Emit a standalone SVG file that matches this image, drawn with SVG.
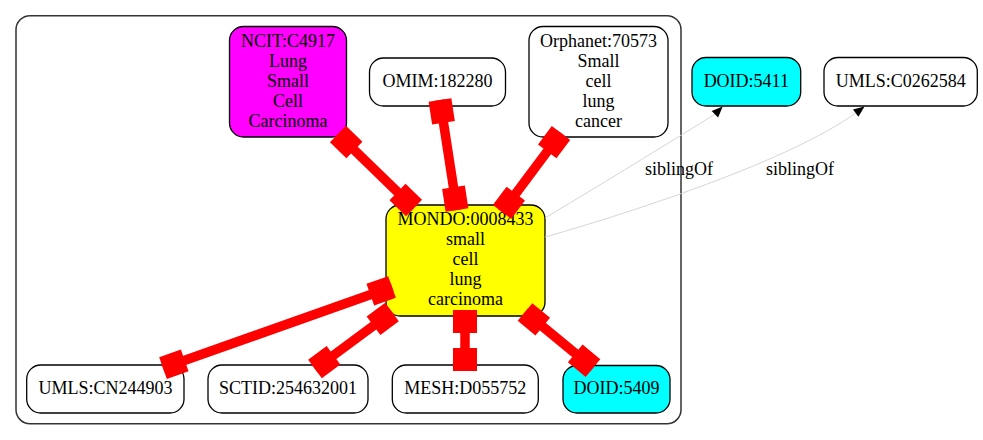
<svg xmlns="http://www.w3.org/2000/svg" width="983" height="440" viewBox="0 0 983 440">
<defs>
<style>
.n{stroke:#000;stroke-width:1.3}
.t{font-family:"Liberation Serif","Times New Roman",serif;font-size:18px;fill:#000;text-anchor:middle}
.r{fill:#ff0000}
.rl{stroke:#ff0000;stroke-width:9.5}
.s{fill:none;stroke:#d0d0d0;stroke-width:0.9}
</style>
</defs>
<rect width="983" height="440" fill="#fff"/>
<rect id="cluster" x="16" y="15.7" width="665" height="408" rx="14" fill="none" stroke="#333" stroke-width="1.5"/>

<g id="NCIT_C4917">
<rect class="n" x="229.5" y="26.5" width="117" height="110.5" rx="14" fill="#ff00ff"/>
<text class="t" x="288" y="46.5">NCIT:C4917</text>
<text class="t" x="288" y="66.5">Lung</text>
<text class="t" x="288" y="86.5">Small</text>
<text class="t" x="288" y="106.5">Cell</text>
<text class="t" x="288" y="126.5">Carcinoma</text>
</g>
<g id="OMIM_182280">
<rect class="n" x="369.5" y="58" width="136" height="48" rx="14" fill="#fff"/>
<text class="t" x="437.5" y="86.5">OMIM:182280</text>
</g>
<g id="Orphanet_70573">
<rect class="n" x="529" y="26.5" width="139" height="110.5" rx="14" fill="#fff"/>
<text class="t" x="598.5" y="46.5">Orphanet:70573</text>
<text class="t" x="598.5" y="66.5">Small</text>
<text class="t" x="598.5" y="86.5">cell</text>
<text class="t" x="598.5" y="106.5">lung</text>
<text class="t" x="598.5" y="126.5">cancer</text>
</g>
<g id="MONDO_0008433">
<rect class="n" x="386" y="205" width="159" height="111" rx="14" fill="#ffff00"/>
<text class="t" x="465.5" y="225">MONDO:0008433</text>
<text class="t" x="465.5" y="245">small</text>
<text class="t" x="465.5" y="265">cell</text>
<text class="t" x="465.5" y="285">lung</text>
<text class="t" x="465.5" y="305">carcinoma</text>
</g>
<g id="UMLS_CN244903">
<rect class="n" x="26.7" y="365" width="157.3" height="48" rx="14" fill="#fff"/>
<text class="t" x="105.4" y="394">UMLS:CN244903</text>
</g>
<g id="SCTID_254632001">
<rect class="n" x="208" y="365" width="160" height="48" rx="14" fill="#fff"/>
<text class="t" x="288" y="394">SCTID:254632001</text>
</g>
<g id="MESH_D055752">
<rect class="n" x="392.3" y="365" width="146" height="48" rx="14" fill="#fff"/>
<text class="t" x="465.3" y="394">MESH:D055752</text>
</g>
<g id="DOID_5409">
<rect class="n" x="563" y="365.5" width="107" height="47.5" rx="14" fill="#00ffff"/>
<text class="t" x="616.5" y="394">DOID:5409</text>
</g>
<g id="DOID_5411">
<rect class="n" x="692" y="57.5" width="108.7" height="48.5" rx="14" fill="#00ffff"/>
<text class="t" x="746.3" y="87">DOID:5411</text>
</g>
<g id="UMLS_C0262584">
<rect class="n" x="824" y="57.5" width="153.3" height="48.5" rx="14" fill="#fff"/>
<text class="t" x="900.7" y="87">UMLS:C0262584</text>
</g>

<g id="connectors">
<g transform="translate(414,208) rotate(-135.8)">
<line class="rl" x1="0" y1="0" x2="106.1" y2="0"/>
<rect class="r" x="0" y="-11.5" width="23" height="23"/>
<rect class="r" x="83.1" y="-11.5" width="23" height="23"/>
</g>
<g transform="translate(457,210) rotate(-98.8)">
<line class="rl" x1="0" y1="0" x2="111.3" y2="0"/>
<rect class="r" x="0" y="-11.5" width="23" height="23"/>
<rect class="r" x="88.3" y="-11.5" width="23" height="23"/>
</g>
<g transform="translate(502,212) rotate(-53.25)">
<line class="rl" x1="0" y1="0" x2="98.6" y2="0"/>
<rect class="r" x="0" y="-11.5" width="23" height="23"/>
<rect class="r" x="75.6" y="-11.5" width="23" height="23"/>
</g>
<g transform="translate(392,287) rotate(160.5)">
<line class="rl" x1="0" y1="0" x2="242.9" y2="0"/>
<rect class="r" x="0" y="-11.5" width="23" height="23"/>
<rect class="r" x="219.9" y="-11.5" width="23" height="23"/>
</g>
<g transform="translate(392,312) rotate(143.5)">
<line class="rl" x1="0" y1="0" x2="95.8" y2="0"/>
<rect class="r" x="0" y="-11.5" width="23" height="23"/>
<rect class="r" x="72.8" y="-11.5" width="23" height="23"/>
</g>
<g transform="translate(465,310) rotate(90)">
<line class="rl" x1="0" y1="0" x2="61" y2="0"/>
<rect class="r" x="0" y="-12" width="23" height="24"/>
<rect class="r" x="38" y="-12" width="23" height="24"/>
</g>
<g transform="translate(525,312) rotate(39.5)">
<line class="rl" x1="0" y1="0" x2="88.1" y2="0"/>
<rect class="r" x="0" y="-11.5" width="23" height="23"/>
<rect class="r" x="65.1" y="-11.5" width="23" height="23"/>
</g>

<path class="s" d="M545,218 C600,185 690,130 714.9,114.3"/>
<polygon points="722.7,106.5 718.1,117.5 711.7,111.1" fill="#000"/>
<text class="t" x="679" y="175">siblingOf</text>
<path class="s" d="M545,237 C640,210 790,160 855.7,113.1"/>
<polygon points="864.5,106.5 858.4,116.7 853,109.5" fill="#000"/>
<text class="t" x="800" y="175">siblingOf</text>
</g>
</svg>
